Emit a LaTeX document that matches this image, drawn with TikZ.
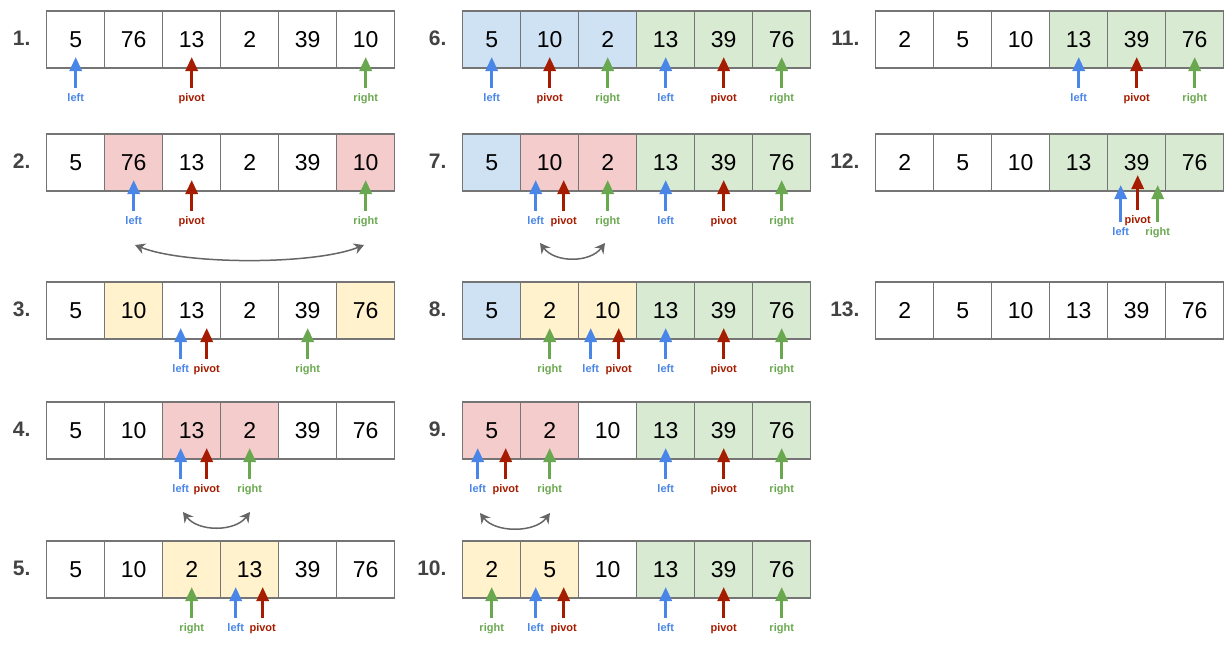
\documentclass[tikz,border=0pt]{standalone}
\usepackage{fontspec}
\setmainfont{Liberation Sans}
\usepackage{tikz}
\usetikzlibrary{arrows.meta}
\definecolor{cborder}{RGB}{117, 117, 117}
\definecolor{cpink}{RGB}{244, 204, 204}
\definecolor{cyellow}{RGB}{255, 242, 204}
\definecolor{cgreen}{RGB}{217, 234, 211}
\definecolor{cblue}{RGB}{207, 226, 243}
\definecolor{cleft}{RGB}{74, 134, 232}
\definecolor{cpivot}{RGB}{166, 28, 0}
\definecolor{cright}{RGB}{106, 168, 79}
\definecolor{cstep}{RGB}{67, 67, 67}
\definecolor{cswap}{RGB}{102, 102, 102}

% one step of the partition: number, origin, cells, pointers
\newcommand{\qsrow}[5]{%
  \begin{scope}[shift={(#2, #3)}]
    \node (s#1) at (-16, \cht / 2 - 1.5) [steplbl] {#1.};
    \foreach \v/\f [count=\i from 0] in {#4} {
      \node (s#1-\i) at ({\i * \cw + \cw / 2}, \cht / 2) [cell, fill=\f] {\v};
    }
    \foreach \c/\o/\k in {#5} {
      \coordinate (s#1-t\c\k) at ({\c * \cw + \cw / 2 + \o}, \cht - 11);
      \node (s#1-\c\k) at ({\c * \cw + \cw / 2 + \o}, \cht + 20) [ptrlbl, text=c\k] {\k};
      \draw[ptr, color=c\k] (s#1-\c\k) -- (s#1-t\c\k);
    }
  \end{scope}}

\begin{document}
\begin{tikzpicture}[
   x=1pt, y=-1pt,
   cell/.style={rectangle, draw=cborder, line width=1.4, text=black,
                minimum width=58, minimum height=57, inner sep=0,
                font=\fontsize{23}{23}\selectfont},
   steplbl/.style={anchor=east, inner sep=0, text=cstep,
                   font=\fontsize{21}{21}\selectfont\bfseries},
   ptrlbl/.style={anchor=north, inner xsep=0, inner ysep=5, outer sep=0,
                  text height=8, text depth=2.5,
                  font=\fontsize{11}{11}\selectfont\bfseries},
   ptr/.style={-{Triangle[width=12, length=14]}, line width=3},
   swaparr/.style={{Stealth[width=11, length=10]}-{Stealth[width=11, length=10]},
                   color=cswap, line width=1.5}
  ]

  % Cell Size
  \pgfmathsetmacro{\cw}{58}
  \pgfmathsetmacro{\cht}{57}

  \useasboundingbox (0, 0) rectangle (1232, 654);

  \qsrow{1}{46.7}{11}{5/white, 76/white, 13/white, 2/white, 39/white, 10/white}
        {0/0/left, 2/0/pivot, 5/0/right}
  \qsrow{2}{46.7}{134}{5/white, 76/cpink, 13/white, 2/white, 39/white, 10/cpink}
        {1/0/left, 2/0/pivot, 5/0/right}
  \qsrow{3}{46.7}{282}{5/white, 10/cyellow, 13/white, 2/white, 39/white, 76/cyellow}
        {2/-11/left, 2/15/pivot, 4/0/right}
  \qsrow{4}{46.7}{402}{5/white, 10/white, 13/cpink, 2/cpink, 39/white, 76/white}
        {2/-11/left, 2/15/pivot, 3/0/right}
  \qsrow{5}{46.7}{541}{5/white, 10/white, 2/cyellow, 13/cyellow, 39/white, 76/white}
        {2/0/right, 3/-14/left, 3/13/pivot}

  \qsrow{6}{462.7}{11}{5/cblue, 10/cblue, 2/cblue, 13/cgreen, 39/cgreen, 76/cgreen}
        {0/0/left, 1/0/pivot, 2/0/right, 3/0/left, 4/0/pivot, 5/0/right}
  \qsrow{7}{462.7}{134}{5/cblue, 10/cpink, 2/cpink, 13/cgreen, 39/cgreen, 76/cgreen}
        {1/-14/left, 1/14/pivot, 2/0/right, 3/0/left, 4/0/pivot, 5/0/right}
  \qsrow{8}{462.7}{282}{5/cblue, 2/cyellow, 10/cyellow, 13/cgreen, 39/cgreen, 76/cgreen}
        {1/0/right, 2/-17/left, 2/11/pivot, 3/0/left, 4/0/pivot, 5/0/right}
  \qsrow{9}{462.7}{402}{5/cpink, 2/cpink, 10/white, 13/cgreen, 39/cgreen, 76/cgreen}
        {0/-14/left, 0/14/pivot, 1/0/right, 3/0/left, 4/0/pivot, 5/0/right}
  \qsrow{10}{462.7}{541}{2/cyellow, 5/cyellow, 10/white, 13/cgreen, 39/cgreen, 76/cgreen}
        {0/0/right, 1/-14/left, 1/14/pivot, 3/0/left, 4/0/pivot, 5/0/right}

  \qsrow{11}{875.7}{11}{2/white, 5/white, 10/white, 13/cgreen, 39/cgreen, 76/cgreen}
        {3/0/left, 4/0/pivot, 5/0/right}
  \qsrow{12}{875.7}{134}{2/white, 5/white, 10/white, 13/cgreen, 39/cgreen, 76/cgreen}{}
  \qsrow{13}{875.7}{282}{2/white, 5/white, 10/white, 13/white, 39/white, 76/white}{}

  % step 12: all three pointers on one cell
  \begin{scope}[shift={(875.7, 134)}]
    \foreach \x/\k/\tip/\tail in {245/left/51/88, 262/pivot/41/76, 282/right/51/88} {
      \coordinate (s12-t\k) at (\x, \tip);
      \node (s12-\k) at (\x, \tail) [ptrlbl, text=c\k] {\k};
      \draw[ptr, color=c\k] (s12-\k) -- (s12-t\k);
    }
  \end{scope}

  % swaps
  \foreach \a/\b/\y/\d in {135/364/245/50, 183/250/512/15, 540/605/243/15, 480/550/513/15} {
    \coordinate (sw\a) at (\a, \y);
    \coordinate (sw\b) at (\b, \y);
    \draw[swaparr] (sw\a) .. controls +(\d, 20) and +(-\d, 20) .. (sw\b);
  }

\end{tikzpicture}
\end{document}
